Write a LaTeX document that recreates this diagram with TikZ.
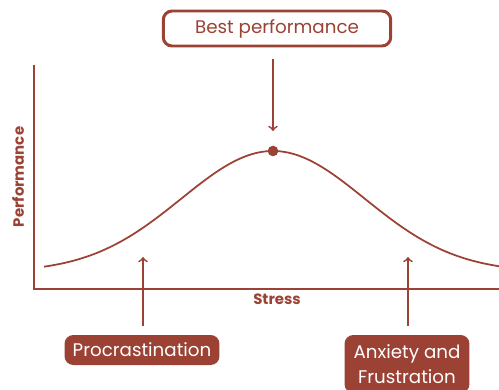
\documentclass[tikz,border=0pt]{standalone}
\usepackage{fontspec}
\setmainfont{Poppins}
\usetikzlibrary{positioning,calc}
\definecolor{rust}{RGB}{155,66,52}

\tikzset{
  tag/.style={fill=rust,text=white,rounded corners=5pt,align=center,
    font=\fontsize{10.4}{13.8}\selectfont,inner sep=2pt},
  headline/.style={draw=rust,line width=1.7pt,fill=white,text=rust,
    rounded corners=5pt,font=\fontsize{10.4}{12}\selectfont},
  axislabel/.style={text=rust,font=\bfseries\fontsize{8.5}{10}\selectfont}
}

\begin{document}
\begin{tikzpicture}[x=0.02cm,y=-0.02cm,line width=1pt,draw=rust]
\useasboundingbox (0,0) rectangle (499,389);
%axes
\draw[line width=1.1pt] (34,65)--(34,289)--(499,289);
\node[axislabel,rotate=90] (perf) at (18,177) {Performance};
\node[axislabel] (stress) at (277,299) {Stress};
%curve
\draw plot[domain=44:499,samples=120,smooth] (\x,{272-121*exp(-((\x-273)/100)^2/1.68)});
\coordinate (peak) at (273,151);
\fill[rust] (peak) circle (5.3);
%boxes
\node[headline,minimum width=4.55cm,minimum height=0.7cm] (best) at (277,28.5) {Best performance};
\node[tag,minimum width=3.1cm,minimum height=0.6cm] (proc) at (142,350) {Procrastination};
\node[tag,minimum width=2.5cm,minimum height=1.16cm] (anx) at (407,364) {Anxiety and\\Frustration};
%arrows
\coordinate (P) at (143,257);
\coordinate (Q) at (408,257);
\draw[->] ($(best.south)+(-4,12)$)--($(peak)+(0,-20)$);
\draw[->] ($(proc.north)+(1,-8)$)--(P);
\draw[->] ($(anx.north)+(1,-8)$)--(Q);
\end{tikzpicture}
\end{document}
